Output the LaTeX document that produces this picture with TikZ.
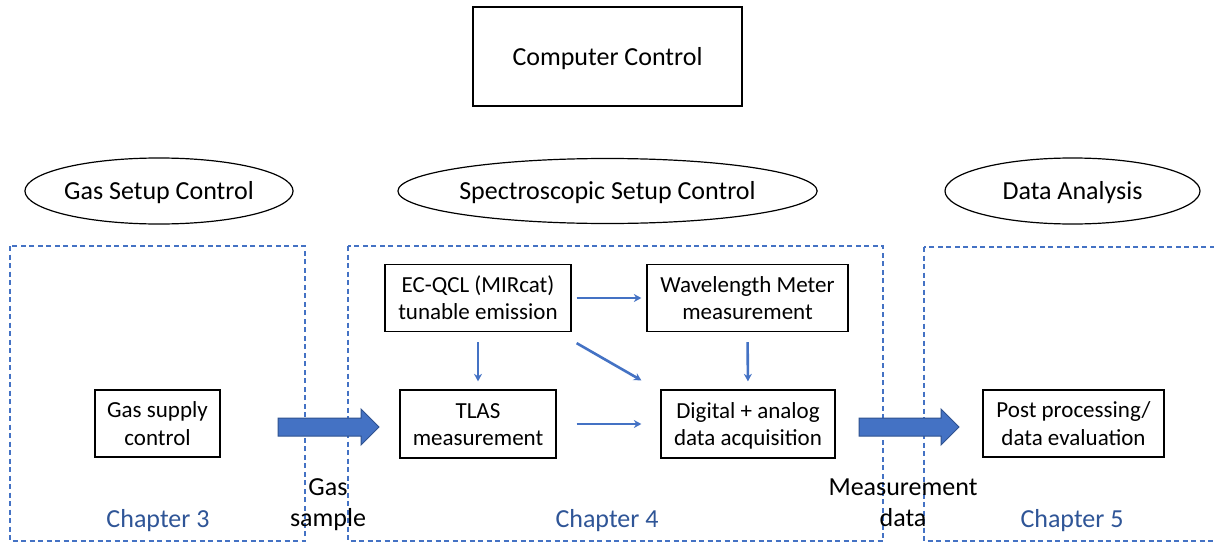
\documentclass[tikz,border=0pt]{standalone}
\usepackage{fontspec}
\setmainfont{Carlito}
\usetikzlibrary{shapes.geometric,arrows.meta,calc}
\definecolor{accent}{HTML}{4472C4}
\definecolor{accentdark}{HTML}{2F528F}
\definecolor{chaptertext}{HTML}{2F5597}
% line box of the font: ascent above the first baseline, descent below the last
\newcommand\lineboxtop{\rule{0pt}{0.952em}}
\newcommand\lineboxtoptwo{\rule{0pt}{\dimexpr0.952em+\baselineskip\relax}}
\newcommand\lineboxbottom{\rule[-0.269em]{0pt}{0pt}}
\tikzset{
  onelinebox/.style={execute at begin node=\lineboxtop, execute at end node=\lineboxbottom},
  twolinebox/.style={execute at begin node=\lineboxtoptwo, execute at end node=\lineboxbottom},
  hdrfont/.style={font=\fontsize{26}{31.2}\selectfont},
  boxfont/.style={font=\fontsize{23}{27.6}\selectfont},
  mainbox/.style={draw=black, line width=1.3pt, rectangle, inner sep=0pt, align=center, hdrfont, onelinebox},
  unitbox/.style={draw=black, line width=1.3pt, rectangle, inner sep=0pt, align=center, boxfont, twolinebox},
  group/.style={draw=black, line width=1.2pt, ellipse, inner sep=0pt, hdrfont, onelinebox},
  chapterframe/.style={draw=accent, line width=1.3pt, dash pattern=on 5pt off 3.5pt},
  chapterlabel/.style={text=chaptertext, inner sep=0pt, hdrfont, onelinebox},
  flowlabel/.style={align=center, inner sep=0pt, hdrfont, twolinebox},
  link/.style={draw=accent, line width=2.6pt, -{Stealth[length=7.5pt,width=8pt]}},
  blockarrow/.style={fill=accent, draw=accentdark, line width=1pt},
}
\begin{document}
\begin{tikzpicture}[x=1pt, y=-1pt]
\clip (0,0) rectangle (1214,543);
\fill[white] (0,0) rectangle (1214,543);

% chapter frames
\draw[chapterframe] (10,246) rectangle (305,541);
\draw[chapterframe] (348,246) rectangle (883,541);
\draw[chapterframe] (924,247) rectangle (1230,541);

% top level
\node[mainbox, minimum width=269, minimum height=99] (pc) at (607.5,56.5) {Computer Control};

% control groups
\node[group, minimum width=254, minimum height=66] (gas) at (159,191) {Gas Setup Control};
\node[group, minimum width=375, minimum height=65] (spec) at (607.5,191) {Spectroscopic Setup Control};
\node[group, minimum width=255, minimum height=66] (ana) at (1072.5,191) {Data Analysis};

% units
\node[unitbox, minimum width=125, minimum height=67] (supply) at (157.5,423.5) {Gas supply\\control};
\node[unitbox, minimum width=186, minimum height=67] (qcl) at (478,298) {EC-QCL (MIRcat)\\tunable emission};
\node[unitbox, minimum width=201, minimum height=67] (wm) at (747.5,298) {Wavelength Meter\\measurement};
\node[unitbox, minimum width=156, minimum height=68] (tlas) at (478,424) {TLAS\\measurement};
\node[unitbox, minimum width=174, minimum height=68] (daq) at (748,424) {Digital + analog\\data acquisition};
\node[unitbox, minimum width=181, minimum height=67] (post) at (1073.5,423.5) {Post processing/\\data evaluation};

% signal links
\draw[link, shorten <=5pt, shorten >=5pt] (qcl.east) -- (wm.west);
\draw[link, shorten <=10pt, shorten >=8pt] (qcl.south) -- (tlas.north);
\draw[link, shorten <=10pt, shorten >=8pt] (wm.south) -- (daq.north);
\draw[link, shorten <=20pt, shorten >=19pt] (tlas.east) -- (daq.west);
\draw[link] ([shift={(5,11)}]qcl.south east) -- ([shift={(-19,-9)}]daq.north west);

% transfer arrows
\draw[blockarrow] (278,418) -- (361,418) -- (361,409) -- (379,427) -- (361,445) -- (361,436) -- (278,436) -- cycle;
\draw[blockarrow] (859,418) -- (941,418) -- (941,409) -- (959,427) -- (941,445) -- (941,436) -- (859,436) -- cycle;

% flow labels
\node[flowlabel] (gaslbl) at (328,502) {Gas\\sample};
\node[flowlabel] (measlbl) at (903,502) {Measurement\\data};

% chapter labels
\node[chapterlabel] (ch3) at (158,519) {Chapter 3};
\node[chapterlabel] (ch4) at (607,519) {Chapter 4};
\node[chapterlabel] (ch5) at (1072,519) {Chapter 5};
\end{tikzpicture}
\end{document}
